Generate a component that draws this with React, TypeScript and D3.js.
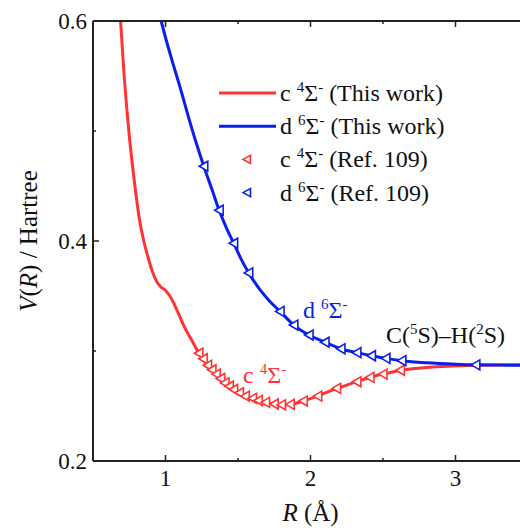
import * as d3 from "d3";
import { useRef, useEffect } from "react";

// c 4Σ- potential curve (This work)
const cCurveR = [0.69, 0.715, 0.747, 0.78, 0.82, 0.85, 0.88, 0.91, 0.94, 0.97, 1.0, 1.03, 1.08, 1.13, 1.18, 1.23, 1.3, 1.38, 1.45, 1.52, 1.6, 1.68, 1.76, 1.82, 1.9, 1.97, 2.05, 2.15, 2.25, 2.35, 2.45, 2.55, 2.65, 2.8, 2.95, 3.1, 3.3, 3.5];
const cCurveV = [0.6, 0.55, 0.5, 0.46, 0.42, 0.4, 0.385, 0.372, 0.363, 0.358, 0.355, 0.35, 0.337, 0.322, 0.31, 0.298, 0.285, 0.274, 0.266, 0.261, 0.257, 0.2535, 0.2515, 0.251, 0.2525, 0.2555, 0.259, 0.2645, 0.269, 0.2735, 0.2775, 0.2805, 0.283, 0.285, 0.2862, 0.2868, 0.2873, 0.2876];

// d 6Σ- potential curve (This work)
const dCurveR = [0.97, 1.0, 1.05, 1.1, 1.16, 1.21, 1.264, 1.32, 1.37, 1.42, 1.47, 1.52, 1.574, 1.65, 1.72, 1.79, 1.885, 1.99, 2.1, 2.22, 2.32, 2.43, 2.52, 2.63, 2.8, 3.0, 3.15, 3.3, 3.5];
const dCurveV = [0.6, 0.585, 0.562, 0.54, 0.512, 0.49, 0.468, 0.447, 0.428, 0.412, 0.398, 0.384, 0.371, 0.356, 0.345, 0.336, 0.3236, 0.3145, 0.308, 0.3015, 0.2985, 0.2955, 0.2933, 0.2912, 0.2893, 0.288, 0.2874, 0.2872, 0.2871];

// Ref. 109 points
const cRefR = [1.23, 1.26, 1.29, 1.32, 1.35, 1.38, 1.41, 1.44, 1.47, 1.51, 1.55, 1.6, 1.64, 1.69, 1.75, 1.8, 1.86, 1.95, 2.05, 2.18, 2.32, 2.41, 2.5, 2.62];
const cRefV = [0.298, 0.293, 0.287, 0.283, 0.279, 0.275, 0.271, 0.268, 0.265, 0.262, 0.259, 0.257, 0.255, 0.2533, 0.2518, 0.251, 0.2515, 0.2545, 0.259, 0.266, 0.272, 0.276, 0.279, 0.2825];
const dRefR = [1.264, 1.37, 1.47, 1.574, 1.79, 1.885, 1.99, 2.1, 2.21, 2.32, 2.42, 2.52, 2.63, 3.14];
const dRefV = [0.468, 0.428, 0.398, 0.371, 0.336, 0.3236, 0.3145, 0.308, 0.302, 0.2985, 0.2957, 0.2933, 0.2912, 0.2874];

const xTicks = [1, 2, 3];
const xMinor = [1.5, 2.5];
const yTicks = [0.2, 0.4, 0.6];
const yMinor = [0.3, 0.5];

const RED = "#ff3333";
const BLUE = "#0a1fe8";
const FONT = "Liberation Serif, serif";

function App() {
  const ref = useRef(null);
  const width = 520;
  const height = 528;

  useEffect(() => {
    const svg = d3.select(ref.current);
    svg.selectAll("*").remove();

    const margin = { left: 93, top: 21, bottom: 67 };
    const x = d3.scaleLinear().domain([0.5, 3.5]).range([margin.left, margin.left + 435]);
    const y = d3.scaleLinear().domain([0.2, 0.6]).range([height - margin.bottom, margin.top]);

    svg
      .append("defs")
      .append("clipPath")
      .attr("id", "plot-clip")
      .append("rect")
      .attr("x", x(0.5))
      .attr("y", y(0.6))
      .attr("width", x(3.5) - x(0.5))
      .attr("height", y(0.2) - y(0.6));

    const line = d3
      .line()
      .x((d) => x(d[0]))
      .y((d) => y(d[1]))
      .curve(d3.curveMonotoneX);

    const plot = svg.append("g").attr("clip-path", "url(#plot-clip)");

    plot
      .append("path")
      .datum(cCurveR.map((r, i) => [r, cCurveV[i]]))
      .attr("d", line)
      .attr("fill", "none")
      .attr("stroke", RED)
      .attr("stroke-width", 3);

    plot
      .append("path")
      .datum(dCurveR.map((r, i) => [r, dCurveV[i]]))
      .attr("d", line)
      .attr("fill", "none")
      .attr("stroke", BLUE)
      .attr("stroke-width", 3);

    const tri = "M-4.5,0L4,-5L4,5Z";
    const drawMarkers = (rs, vs, colour) =>
      plot
        .append("g")
        .selectAll("path")
        .data(rs.map((r, i) => [r, vs[i]]))
        .join("path")
        .attr("d", tri)
        .attr("transform", (d) => `translate(${x(d[0])},${y(d[1])})`)
        .attr("fill", "white")
        .attr("stroke", colour)
        .attr("stroke-width", 1.6);

    drawMarkers(cRefR, cRefV, RED);
    drawMarkers(dRefR, dRefV, BLUE);

    // Axes frame
    const axis = svg.append("g").attr("stroke", "#222").attr("stroke-width", 2);
    axis.append("line").attr("x1", x(0.5)).attr("x2", x(3.5)).attr("y1", y(0.2)).attr("y2", y(0.2));
    axis.append("line").attr("x1", x(0.5)).attr("x2", x(3.5)).attr("y1", y(0.6)).attr("y2", y(0.6));
    axis.append("line").attr("x1", x(0.5)).attr("x2", x(0.5)).attr("y1", y(0.2)).attr("y2", y(0.6));
    axis.append("line").attr("x1", x(3.5)).attr("x2", x(3.5)).attr("y1", y(0.2)).attr("y2", y(0.6));

    const ticks = svg.append("g").attr("stroke", "#222").attr("stroke-width", 1.5);
    [...xTicks.map((t) => [t, 6]), ...xMinor.map((t) => [t, 3])].forEach(([t, len]) => {
      ticks.append("line").attr("x1", x(t)).attr("x2", x(t)).attr("y1", y(0.2)).attr("y2", y(0.2) - len);
      ticks.append("line").attr("x1", x(t)).attr("x2", x(t)).attr("y1", y(0.6)).attr("y2", y(0.6) + len);
    });
    [...yTicks.map((t) => [t, 6]), ...yMinor.map((t) => [t, 3])].forEach(([t, len]) => {
      ticks.append("line").attr("x1", x(0.5)).attr("x2", x(0.5) + len).attr("y1", y(t)).attr("y2", y(t));
    });

    const labels = svg.append("g").style("font-family", FONT).attr("font-size", 23).attr("fill", "#111");
    labels
      .selectAll(".xt")
      .data(xTicks)
      .join("text")
      .attr("text-anchor", "middle")
      .attr("x", (d) => x(d))
      .attr("y", y(0.2) + 25)
      .text((d) => d);
    labels
      .selectAll(".yt")
      .data(yTicks)
      .join("text")
      .attr("text-anchor", "end")
      .attr("x", x(0.5) - 6)
      .attr("y", (d) => y(d) + 8)
      .text((d) => d.toFixed(1));

    // Axis titles
    const xt = labels
      .append("text")
      .attr("text-anchor", "middle")
      .attr("x", x(2))
      .attr("y", 521)
      .attr("font-size", 25);
    xt.append("tspan").attr("font-style", "italic").text("R");
    xt.append("tspan").text(" (Å)");

    const yt = labels
      .append("text")
      .attr("text-anchor", "middle")
      .attr("transform", `translate(37,${y(0.4)}) rotate(-90)`)
      .attr("font-size", 25);
    yt.append("tspan").attr("font-style", "italic").text("V");
    yt.append("tspan").text("(");
    yt.append("tspan").attr("font-style", "italic").text("R");
    yt.append("tspan").text(") / Hartree");

    // State label helper: "c ⁴Σ⁻"
    const stateText = (g, letter, mult, tail, px, py, colour) => {
      const t = g.append("text").attr("x", px).attr("y", py).attr("fill", colour);
      t.append("tspan").text(letter + " ");
      t.append("tspan").attr("font-size", 15).attr("dy", -9).text(mult);
      t.append("tspan").attr("dy", 9).text("Σ");
      t.append("tspan").attr("font-size", 15).attr("dy", -9).text("-");
      t.append("tspan").attr("dy", 9).text(tail);
      return t;
    };

    // Legend
    const legend = svg.append("g").style("font-family", FONT).attr("font-size", 24);
    const rows = [
      { letter: "c", mult: "4", tail: " (This work)", colour: RED, kind: "line" },
      { letter: "d", mult: "6", tail: " (This work)", colour: BLUE, kind: "line" },
      { letter: "c", mult: "4", tail: " (Ref. 109)", colour: RED, kind: "marker" },
      { letter: "d", mult: "6", tail: " (Ref. 109)", colour: BLUE, kind: "marker" },
    ];
    rows.forEach((row, i) => {
      const cy = 93 + i * 33.2;
      if (row.kind === "line") {
        legend
          .append("line")
          .attr("x1", 219)
          .attr("x2", 276)
          .attr("y1", cy)
          .attr("y2", cy)
          .attr("stroke", row.colour)
          .attr("stroke-width", 3);
      } else {
        legend
          .append("path")
          .attr("d", "M-4,0L3.5,-4L3.5,4Z")
          .attr("transform", `translate(247,${cy})`)
          .attr("fill", "white")
          .attr("stroke", row.colour)
          .attr("stroke-width", 1.6);
      }
      stateText(legend, row.letter, row.mult, row.tail, 280, cy + 8, "#111");
    });

    // Curve annotations
    const notes = svg.append("g").style("font-family", FONT).attr("font-size", 24);
    stateText(notes, "d", "6", "", 303, 318, BLUE);
    stateText(notes, "c", "4", "", 243, 383, RED);
    const ch = notes.append("text").attr("x", 386).attr("y", 343).attr("fill", "#111");
    ch.append("tspan").text("C(");
    ch.append("tspan").attr("font-size", 15).attr("dy", -9).text("5");
    ch.append("tspan").attr("dy", 9).text("S)–H(");
    ch.append("tspan").attr("font-size", 15).attr("dy", -9).text("2");
    ch.append("tspan").attr("dy", 9).text("S)");
  }, []);

  return (
    <svg
      ref={ref}
      width={width}
      height={height}
      viewBox={`0 0 ${width} ${height}`}
      style={{ position: "absolute", left: 0, top: 0, background: "white" }}
    ></svg>
  );
}

export default App;
